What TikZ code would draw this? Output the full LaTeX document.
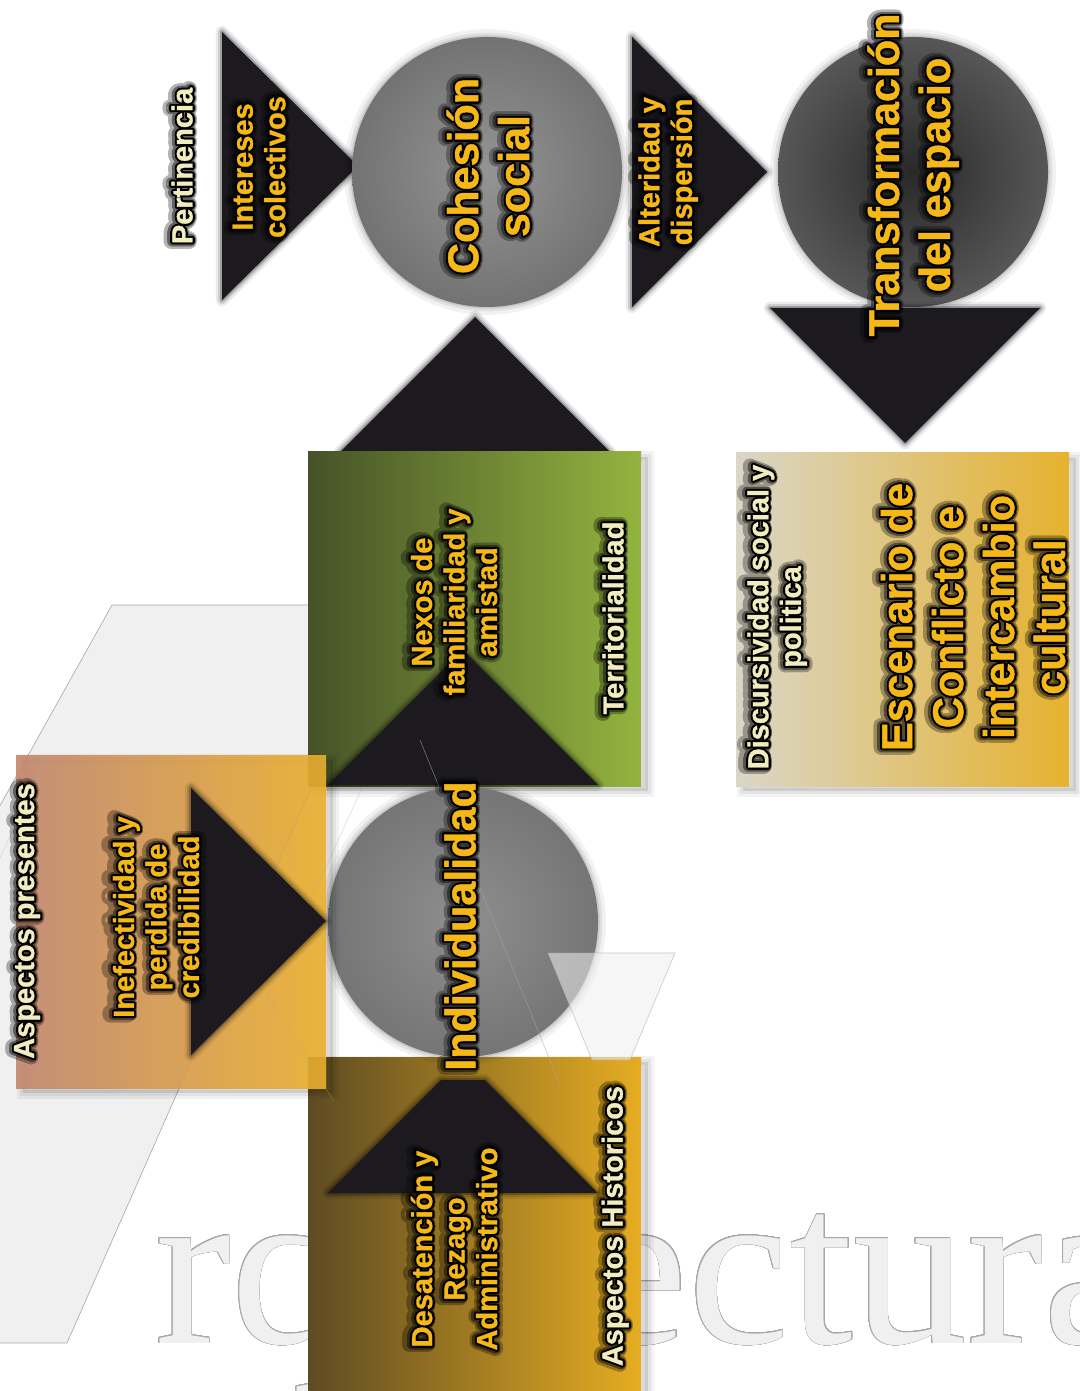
\documentclass[tikz,border=0pt]{standalone}
\usepackage{fontspec}
\usepackage{contour}

\newfontfamily\lblfont{Liberation Sans Bold}[FakeBold=1.1]
\newfontfamily\wmfont{Liberation Serif}

\definecolor{gold}{HTML}{F6B817}
\definecolor{cream}{HTML}{F2EDBE}
\definecolor{tri}{HTML}{1C1A1F}
\definecolor{wmfill}{HTML}{F0F0F0}
\definecolor{wmline}{HTML}{A8A8A8}
\definecolor{greenL}{HTML}{465229}
\definecolor{greenM}{HTML}{6C8234}
\definecolor{greenR}{HTML}{93B43E}
\definecolor{brownL}{HTML}{5D4B22}
\definecolor{brownM}{HTML}{A8842A}
\definecolor{brownR}{HTML}{E6AD22}
\definecolor{orangeL}{HTML}{C3876F}
\definecolor{orangeM}{HTML}{DC9E4A}
\definecolor{orangeR}{HTML}{EBAF2C}
\definecolor{sandL}{HTML}{DAD6C8}
\definecolor{sandM}{HTML}{C2AD78}
\definecolor{sandR}{HTML}{E6B22E}

\contournumber{24}
\newcommand\outl[1]{\contour{black}{#1}}

% label with a soft dark halo behind the outlined text
\newcommand\glowlabel[4]{%
  \begin{scope}[transparency group, opacity=0.3]
    \node[#2, text=black, execute at begin node={\contourlength{3.6pt}}] at #1 {#4};
  \end{scope}
  \begin{scope}[transparency group, opacity=0.45]
    \node[#2, text=black, execute at begin node={\contourlength{2.2pt}}] at #1 {#4};
  \end{scope}
  \node[#2, execute at begin node={\contourlength{1.05pt}}] (#3) at #1 {#4};
}

\tikzset{
  lbl/.style={rotate=90, align=center, inner sep=0pt,
    font=\lblfont\fontsize{16.5}{18.5}\selectfont},
  biglbl/.style={lbl, font=\lblfont\fontsize{24.5}{29}\selectfont},
  goldtxt/.style={text=gold},
  creamtxt/.style={text=cream},
  % dark fuzzy rim made of stacked translucent strokes
  darkrim/.style={
    preaction={draw=black, line width=7pt, opacity=0.08, line join=round},
    preaction={draw=black, line width=4.5pt, opacity=0.12, line join=round},
    preaction={draw=black, line width=2.2pt, opacity=0.22, line join=round}},
  arrowtri/.style={fill=tri, darkrim},
  softrim/.style={
    preaction={draw=black, line width=9pt, opacity=0.05},
    preaction={draw=black, line width=5pt, opacity=0.07},
    preaction={draw=black, line width=2pt, opacity=0.1}},
  panel/.style={
    preaction={fill=black, opacity=0.10, transform canvas={xshift=4pt, yshift=-3pt}},
    preaction={draw=black, line width=7pt, opacity=0.05, transform canvas={xshift=4pt, yshift=-3pt}},
    preaction={draw=black, line width=3.5pt, opacity=0.06, transform canvas={xshift=4pt, yshift=-3pt}}},
  wmstroke/.style={draw=wmline, line width=0.35pt},
}

\begin{document}
\begin{tikzpicture}[x=0.02cm, y=-0.02cm]
  \useasboundingbox (0,0) rectangle (1079,1391);
  \fill[white] (0,0) rectangle (1079,1391);

  % --- background lettering ---
  \begin{scope}
    \clip (0,0) rectangle (1079,1391);
    \fill[wmfill, wmstroke] (112,605) -- (392,605) -- (67,1343) -- (-300,1343) -- cycle;
    \node[anchor=base west, inner sep=0pt, text=wmfill,
      font=\wmfont\fontsize{130}{130}\selectfont] (wm) at (155,1343)
      {\contourlength{0.3pt}\contour{wmline}{rquitectura}};
  \end{scope}

  % --- upper row: triangles and circles ---
  \fill[arrowtri] (222,32) -- (222,300) -- (358,166) -- cycle;
  \shade[inner color=black!42, outer color=black!55, softrim] (487,172) circle (135);
  \fill[arrowtri] (632,37) -- (632,307) -- (767,172) -- cycle;
  \shade[inner color=black!84, outer color=black!66, softrim] (913,172) circle (135);
  \fill[arrowtri] (770,308) -- (1040,308) -- (905,443) -- cycle;
  \fill[arrowtri] (340,452) -- (610,452) -- (475,317) -- cycle;

  % --- panels ---
  \shade[panel, left color=greenL, middle color=greenM, right color=greenR]
    (308,452) rectangle (641,786);
  \shade[panel, left color=brownL, middle color=brownM, right color=brownR]
    (308,1057) rectangle (641,1400);
  \shade[panel, left color=sandL, middle color=sandM, right color=sandR]
    (736,453) rectangle (1069,786);

  % --- triangles inside the panels ---
  \fill[arrowtri] (328,785) -- (598,785) -- (463,650) -- cycle;
  \fill[arrowtri] (328,1193) -- (598,1193) -- (485,1080) -- (441,1080) -- cycle;

  % --- central circle ---
  \shade[inner color=black!44, outer color=black!54, softrim] (463,922) circle (135);

  % lettering strokes seen across the open area
  \begin{scope}[opacity=0.6]
    \draw[wmstroke] (420,740) -- (560,1085);
    \fill[wmfill, wmstroke, fill opacity=0.55] (548,953) -- (675,953) -- (630,1060) -- (592,1060) -- cycle;
  \end{scope}

  % --- left panel ---
  \shade[panel, left color=orangeL, middle color=orangeM, right color=orangeR, opacity=0.9]
    (16,755) rectangle (326,1088);
  \begin{scope}[opacity=0.35]
    \draw[wmstroke] (47,755) -- (0,858);
    \draw[wmstroke] (362,788) -- (267,997) -- (333,1100);
    \draw[wmstroke] (326,755) -- (176,1088);
  \end{scope}
  \fill[arrowtri] (191,788) -- (191,1055) -- (326,921) -- cycle;

  % --- labels ---
  \glowlabel{(183,166)}{lbl,creamtxt}{pert}{\outl{Pertinencia}}
  \glowlabel{(260,167)}{lbl,goldtxt}{intc}{\outl{Intereses}\\\outl{colectivos}}
  \glowlabel{(489,176)}{biglbl,goldtxt}{cohs}{\outl{Cohesión}\\\outl{social}}
  \glowlabel{(669,172)}{lbl,goldtxt}{altd}{\outl{Alteridad y}\\\outl{dispersión}}
  \glowlabel{(914,175)}{biglbl,goldtxt}{trsf}{\outl{Transformación}\\\outl{del espacio}}
  \glowlabel{(778,617)}{lbl,creamtxt}{disc}{\outl{Discursividad social y}\\\outl{politica}}
  \glowlabel{(974,617)}{biglbl,goldtxt}{esce}{\outl{Escenario de}\\\outl{Conflicto e}\\\outl{intercambio}\\\outl{cultural}}
  \glowlabel{(455,602)}{lbl,goldtxt}{nexo}{\outl{Nexos de}\\\outl{familiaridad y}\\\outl{amistad}}
  \glowlabel{(614,618)}{lbl,creamtxt}{terr}{\outl{Territorialidad}}
  \glowlabel{(461,926)}{biglbl,goldtxt}{indv}{\outl{Individualidad}}
  \glowlabel{(28,921)}{lbl,creamtxt}{aspp}{\outl{Aspectos presentes}}
  \glowlabel{(157,917)}{lbl,goldtxt}{inef}{\outl{Inefectividad y}\\\outl{perdida de}\\\outl{credibilidad}}
  \glowlabel{(455,1249)}{lbl,goldtxt}{desa}{\outl{Desatención y}\\\outl{Rezago}\\\outl{Administrativo}}
  \glowlabel{(616,1226)}{lbl,creamtxt}{asph}{\outl{Aspectos Historicos}}
\end{tikzpicture}
\end{document}
